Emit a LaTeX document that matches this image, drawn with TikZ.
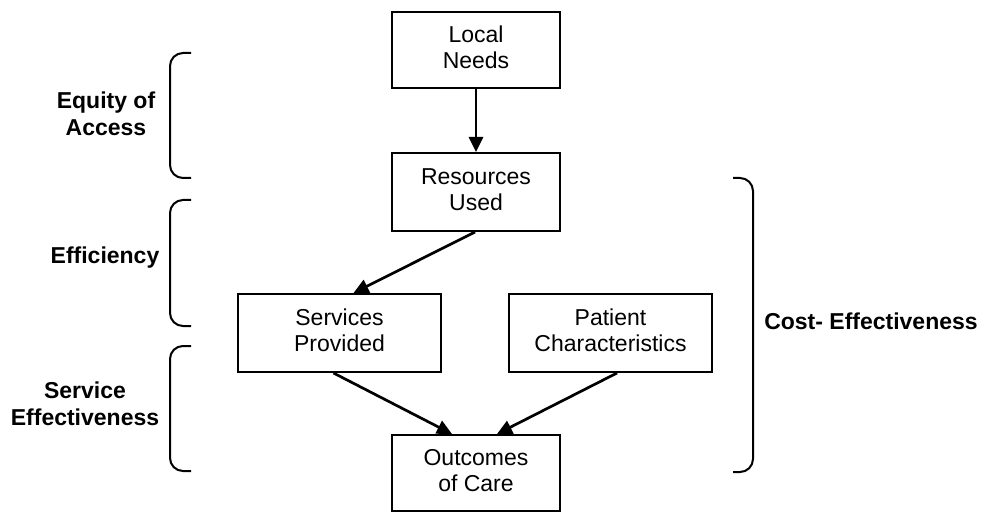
\documentclass[tikz,border=0pt]{standalone}
\usepackage{fontspec}
\setmainfont{Liberation Sans}
\usetikzlibrary{arrows.meta}
\begin{document}
\begin{tikzpicture}[x=1pt,y=-1pt,
  box/.style={draw,line width=2pt,inner sep=0pt,align=center,text depth=5pt,font=\fontsize{23}{26}\selectfont},
  lbl/.style={inner sep=0pt,align=center,font=\fontsize{23}{27}\selectfont\bfseries},
  conn/.style={line width=2.7pt,-{Triangle[length=15pt,width=14pt]}},
  brace/.style={line width=2pt,rounded corners=13pt}]
\useasboundingbox (0,0) rectangle (983,513);
\node[box,minimum width=168pt,minimum height=76pt] (ln) at (476,50) {Local\\Needs};
\node[box,minimum width=168pt,minimum height=78pt] (ru) at (476,192) {Resources\\Used};
\node[box,minimum width=203pt,minimum height=78pt] (sp) at (339.5,333) {Services\\Provided};
\node[box,minimum width=203pt,minimum height=78pt] (pc) at (610.5,333) {Patient\\Characteristics};
\node[box,minimum width=168pt,minimum height=76pt] (oc) at (476,473) {Outcomes\\of Care};
\draw[conn] (ln.south) -- (ru.north);
\draw[conn] ([xshift=-1pt]ru.south) -- ([xshift=14pt]sp.north);
\draw[conn] ([xshift=-6pt]sp.south) -- ([xshift=-24pt]oc.north);
\draw[conn] ([xshift=6.5pt]pc.south) -- ([xshift=21pt]oc.north);
\node[lbl] (eq) at (106,114) {Equity of\\Access};
\node[lbl] (ef) at (105,258) {Efficiency};
\node[lbl] (se) at (85,404) {Service\\Effectiveness};
\node[lbl] (ce) at (871,321) {Cost- Effectiveness};
\coordinate (b1a) at (191,53);  \coordinate (b1b) at (191,178);
\coordinate (b2a) at (191,200); \coordinate (b2b) at (191,326);
\coordinate (b3a) at (191,346); \coordinate (b3b) at (191,471);
\coordinate (b4a) at (733,178); \coordinate (b4b) at (733,472);
\draw[brace] (b1a) -- (170,53) -- (170,178) -- (b1b);
\draw[brace] (b2a) -- (170,200) -- (170,326) -- (b2b);
\draw[brace] (b3a) -- (170,346) -- (170,471) -- (b3b);
\draw[brace] (b4a) -- (753,178) -- (753,472) -- (b4b);
\end{tikzpicture}
\end{document}
